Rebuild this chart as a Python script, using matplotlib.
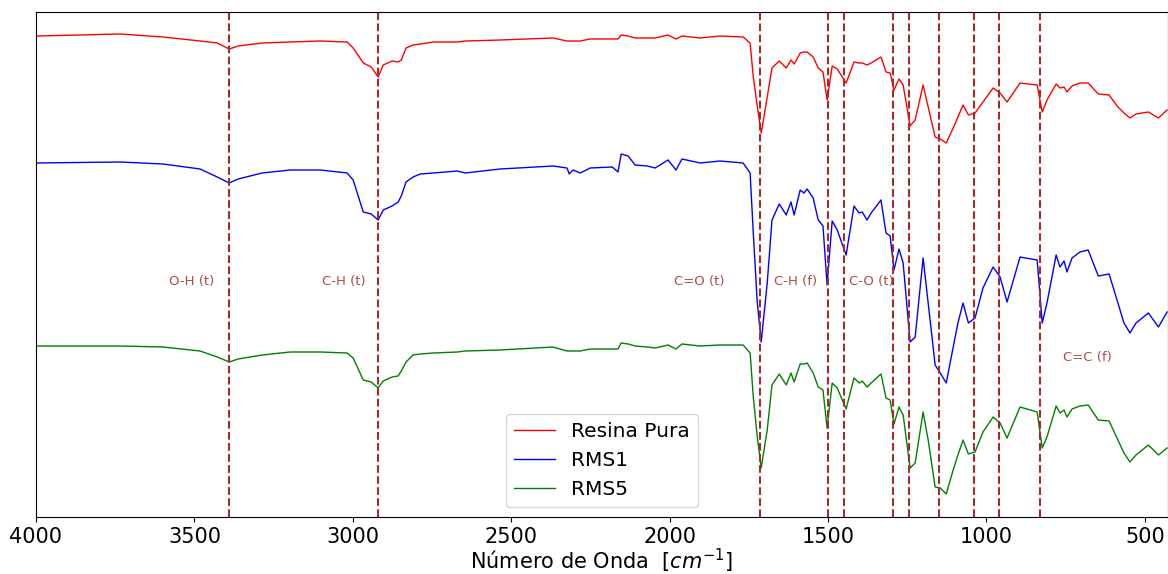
import matplotlib
matplotlib.use("Agg")
import matplotlib.pyplot as plt

# FTIR spectra (arbitrary transmittance units, already offset per sample)
wavenumber = [4000, 3734, 3599, 3482, 3428, 3390, 3362, 3286, 3198, 3103, 3018, 2999,
              2967, 2942, 2920, 2904, 2876, 2857, 2847, 2832, 2810, 2787, 2746, 2671,
              2645, 2535, 2368, 2324, 2317, 2305, 2282, 2251, 2181, 2163, 2153, 2131,
              2109, 2071, 2046, 2005, 1980, 1961, 1904, 1841, 1768, 1746, 1736, 1724,
              1711, 1692, 1677, 1654, 1632, 1617, 1607, 1588, 1576, 1566, 1547, 1531,
              1516, 1503, 1487, 1471, 1443, 1418, 1402, 1392, 1377, 1364, 1333, 1317,
              1304, 1292, 1276, 1263, 1241, 1225, 1200, 1184, 1162, 1146, 1127, 1105,
              1090, 1074, 1057, 1036, 1011, 979, 957, 935, 894, 840, 824, 809,
              780, 768, 755, 746, 730, 705, 679, 647, 613, 585, 566, 547,
              528, 489, 457, 430]

resina_pura = [481, 483, 480, 476, 474, 468, 471, 474, 475, 476, 475, 469,
               454, 450, 440, 452, 456, 455, 457, 469, 472, 473, 475, 475,
               476, 477, 479, 476, 476, 476, 476, 478, 478, 478, 482, 481,
               479, 479, 479, 482, 478, 481, 479, 481, 480, 474, 440, 412,
               384, 420, 449, 456, 449, 457, 453, 464, 465, 465, 460, 449,
               445, 417, 451, 448, 434, 455, 454, 454, 452, 454, 460, 445,
               444, 427, 438, 432, 391, 397, 432, 410, 380, 378, 374, 389,
               400, 412, 402, 404, 415, 429, 424, 415, 434, 432, 405, 417,
               433, 429, 430, 425, 431, 434, 434, 423, 422, 410, 404, 399,
               403, 405, 399, 407]

rms1 = [354, 355, 353, 348, 340, 334, 338, 344, 347, 347, 344, 337,
        305, 303, 297, 307, 311, 315, 321, 335, 340, 343, 344, 346,
        344, 348, 351, 349, 343, 347, 344, 349, 350, 345, 363, 361,
        352, 351, 349, 357, 347, 358, 354, 356, 354, 344, 284, 217,
        175, 234, 297, 313, 302, 315, 302, 327, 324, 328, 319, 297,
        291, 232, 296, 287, 262, 311, 304, 305, 297, 304, 317, 284,
        281, 247, 268, 254, 175, 180, 259, 214, 152, 144, 134, 170,
        194, 214, 194, 199, 229, 250, 240, 215, 260, 257, 194, 214,
        262, 250, 256, 245, 259, 265, 267, 241, 243, 214, 194, 184,
        194, 204, 190, 205]

rms5 = [171, 171, 170, 166, 160, 155, 158, 162, 165, 165, 164, 159,
        137, 135, 129, 136, 140, 141, 146, 155, 162, 163, 164, 165,
        166, 167, 170, 166, 166, 166, 166, 168, 168, 168, 174, 173,
        171, 170, 169, 172, 168, 173, 171, 172, 172, 164, 120, 82,
        49, 87, 132, 143, 132, 144, 135, 153, 153, 154, 144, 130,
        127, 89, 134, 129, 108, 139, 134, 136, 130, 134, 143, 119,
        117, 93, 110, 102, 49, 54, 105, 77, 30, 29, 23, 47,
        62, 77, 63, 65, 85, 100, 94, 79, 110, 105, 69, 80,
        111, 104, 107, 100, 108, 111, 112, 97, 96, 77, 64, 55,
        62, 72, 62, 69]

# band positions and their assignments
bands = [3390, 2920, 1715, 1500, 1450, 1295, 1245, 1150, 1040, 960, 830]
band_labels = ["O-H (t)", "C-H (t)", "C=O (t)", "C-H (f)", "C-O (t)", "C=C (f)"]
label_x = [3508, 3030, 1907, 1601, 1362, 683]
label_y = [235, 235, 235, 235, 235, 160]

fig = plt.figure(figsize=(11.68, 5.74), dpi=100)
ax = fig.add_axes([36 / 1168, 57 / 574, 1132 / 1168, 505 / 574])

ax.plot(wavenumber, resina_pura, color="red", lw=1.0, label="Resina Pura")
ax.plot(wavenumber, rms1, color="blue", lw=1.0, label="RMS1")
ax.plot(wavenumber, rms5, color="green", lw=1.0, label="RMS5")

for b in bands:
    ax.axvline(b, color="brown", linestyle="--", lw=1.5)

for txt, x, y in zip(band_labels, label_x, label_y):
    ax.text(x, y, txt, color="brown", alpha=0.85, fontsize=9.5,
            ha="center", va="center")

ax.set_xlim(4000, 427)
ax.set_ylim(0, 505)
ax.set_yticks([])
ax.set_xticks([4000, 3500, 3000, 2500, 2000, 1500, 1000, 500])
ax.tick_params(axis="x", labelsize=15)
ax.set_xlabel("Número de Onda  [$cm^{-1}$]", fontsize=15, labelpad=0)
ax.legend(loc="lower center", fontsize=14.5)

fig.savefig("out.png", dpi=100)
